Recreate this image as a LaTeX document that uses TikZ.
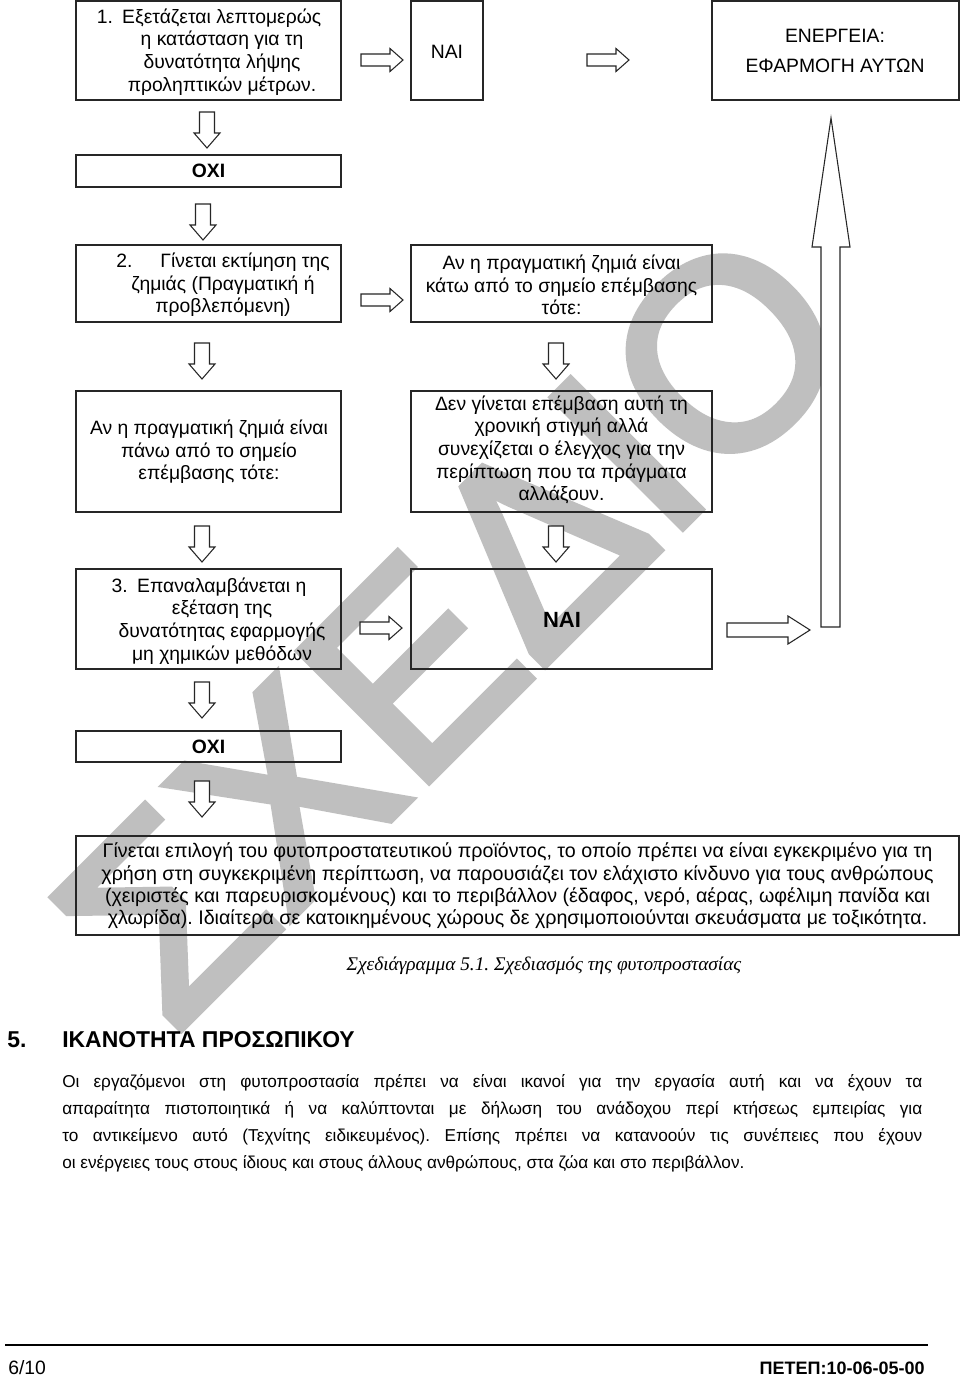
\documentclass[tikz,border=0pt]{standalone}
\usepackage{fontspec}
\setmainfont{Liberation Sans}
\newfontfamily\capfont{Liberation Serif}
\newfontfamily\wmfont[FakeBold=3]{Liberation Sans}
\usetikzlibrary{fit,calc}
\frenchspacing
\tikzset{
  box/.style={draw=black!85, line width=0.8pt, inner sep=0pt},
  txt/.style={font=\fontsize{14.5}{17}\selectfont, align=center, inner sep=0pt},
  btxt/.style={font=\fontsize{14.5}{17}\selectfont\bfseries, align=center, inner sep=0pt},
  blk/.style={draw=black!85, line width=0.8pt, fill=white, line join=miter},
  pics/darr/.style={code={\draw[blk] (-7.5,-18) -- (7.5,-18) -- (7.5,3) -- (13,3) -- (0,18) -- (-13,3) -- (-7.5,3) -- cycle;}},
  pics/rarr/.style={code={\draw[blk] (-21,-6) -- (8,-6) -- (8,-11.5) -- (21,0) -- (8,11.5) -- (8,6) -- (-21,6) -- cycle;}},
  pics/rarrbig/.style={code={\draw[blk] (-41.5,-7) -- (19.5,-7) -- (19.5,-14) -- (41.5,0) -- (19.5,14) -- (19.5,7) -- (-41.5,7) -- cycle;}},
  para/.style={anchor=base west, inner sep=0pt, font=\fontsize{12.9}{15}\selectfont},
}
\begin{document}
\begin{tikzpicture}[x=0.75pt,y=-0.75pt]
\useasboundingbox (0,0) rectangle (960,1378);
\fill[white] (0,0) rectangle (960,1378);
% watermark
\node[rotate=45, text=black!25, inner sep=0pt, font=\wmfont\fontsize{200}{200}\selectfont] (wm) at (453,627) {ΣΧΕΔΙΟ};
% boxes
\node[box, fit={(76,1)(341,100)}] (b1) {};
\node[box, fit={(411,1)(483,100)}] (nai1) {};
\node[box, fit={(712,1)(959,100)}] (en) {};
\node[box, fit={(76,155)(341,187)}] (oxi1) {};
\node[box, fit={(76,245)(341,322)}] (b2) {};
\node[box, fit={(411,245)(712,322)}] (kato) {};
\node[box, fit={(76,391)(341,512)}] (pano) {};
\node[box, fit={(411,391)(712,512)}] (den) {};
\node[box, fit={(76,569)(341,669)}] (b3) {};
\node[box, fit={(411,569)(712,669)}] (nai2) {};
\node[box, fit={(76,731)(341,762)}] (oxi2) {};
\node[box, fit={(76,836)(959,935)}] (big) {};
% texts
\node[txt] (t1) at (222,52) {\hspace*{-19.5pt}1.\hspace{7pt}Εξετάζεται λεπτομερώς\\η κατάσταση για τη\\δυνατότητα λήψης\\προληπτικών μέτρων.};
\node[txt] (tnai1) at (447,52) {ΝΑΙ};
\node[txt] (ten) at (835,51) {ΕΝΕΡΓΕΙΑ:\\[6pt]ΕΦΑΡΜΟΓΗ ΑΥΤΩΝ};
\node[btxt] (toxi1) at (208.5,171) {ΟΧΙ};
\node[txt] (t2) at (223,285) {2.\hspace{21pt}Γίνεται εκτίμηση της\\ζημιάς (Πραγματική ή\\προβλεπόμενη)};
\node[txt] (tkato) at (561.5,285) {Αν η πραγματική ζημιά είναι\\κάτω από το σημείο επέμβασης\\τότε:};
\node[txt] (tpano) at (209,452) {Αν η πραγματική ζημιά είναι\\πάνω από το σημείο\\επέμβασης τότε:};
\node[txt] (tden) at (561.5,450) {Δεν γίνεται επέμβαση αυτή τη\\χρονική στιγμή αλλά\\συνεχίζεται ο έλεγχος για την\\περίπτωση που τα πράγματα\\αλλάξουν.};
\node[txt] (t3) at (222,621) {\hspace*{-19.5pt}3.\hspace{7pt}Επαναλαμβάνεται η\\εξέταση της\\δυνατότητας εφαρμογής\\μη χημικών μεθόδων};
\node[btxt, font=\fontsize{16.5}{18}\selectfont\bfseries] (tnai2) at (562,620) {ΝΑΙ};
\node[btxt] (toxi2) at (208.5,747) {ΟΧΙ};
\node[txt, font=\fontsize{14.75}{16.7}\selectfont] (tbig) at (517.5,886) {Γίνεται επιλογή του φυτοπροστατευτικού προϊόντος, το οποίο πρέπει να είναι εγκεκριμένο για τη\\χρήση στη συγκεκριμένη περίπτωση, να παρουσιάζει τον ελάχιστο κίνδυνο για τους ανθρώπους\\(χειριστές και παρευρισκομένους) και το περιβάλλον (έδαφος, νερό, αέρας, ωφέλιμη πανίδα και\\χλωρίδα). Ιδιαίτερα σε κατοικημένους χώρους δε χρησιμοποιούνται σκευάσματα με τοξικότητα.};
% block arrows
\pic at (207,130) {darr};
\pic at (203,222) {darr};
\pic at (202,361) {darr};
\pic at (202,544) {darr};
\pic at (556,361) {darr};
\pic at (556,544) {darr};
\pic at (202,700) {darr};
\pic at (202,799) {darr};
\pic at (382,60) {rarr};
\pic at (608,60) {rarr};
\pic at (382,300) {rarr};
\pic at (381,628) {rarr};
\pic at (768.5,630) {rarrbig};
\draw[blk] (821,627) -- (821,247) -- (812,247) -- (831,118) -- (850,247) -- (840,247) -- (840,627) -- cycle;
% caption
\node[inner sep=0pt, font=\capfont\itshape\fontsize{14.5}{17}\selectfont] (cap) at (544,966) {Σχεδιάγραμμα 5.1. Σχεδιασμός της φυτοπροστασίας};
% section
\node[anchor=base west, inner sep=0pt, font=\bfseries\fontsize{17.2}{20}\selectfont] (sn) at (7,1047) {5.};
\node[anchor=base west, inner sep=0pt, font=\bfseries\fontsize{17.2}{20}\selectfont] (st) at (62,1047) {ΙΚΑΝΟΤΗΤΑ ΠΡΟΣΩΠΙΚΟΥ};
\node[para] (p1) at (62,1087) {\makebox[645pt][s]{Οι εργαζόμενοι στη φυτοπροστασία πρέπει να είναι ικανοί για την εργασία αυτή και να έχουν τα}};
\node[para] (p2) at (62,1114) {\makebox[645pt][s]{απαραίτητα πιστοποιητικά ή να καλύπτονται με δήλωση του ανάδοχου περί κτήσεως εμπειρίας για}};
\node[para] (p3) at (62,1141) {\makebox[645pt][s]{το αντικείμενο αυτό (Τεχνίτης ειδικευμένος). Επίσης πρέπει να κατανοούν τις συνέπειες που έχουν}};
\node[para] (p4) at (62,1168) {οι ενέργειες τους στους ίδιους και στους άλλους ανθρώπους, στα ζώα και στο περιβάλλον.};
% footer
\coordinate (fl) at (5,1345);
\coordinate (fr) at (928,1345);
\draw[line width=1.5pt] (fl) -- (fr);
\node[anchor=base west, inner sep=0pt, font=\fontsize{14.5}{18}\selectfont] (pg) at (8,1374) {6/10};
\node[anchor=base east, inner sep=0pt, font=\bfseries\fontsize{13.5}{18}\selectfont] (code) at (925,1374) {ΠΕΤΕΠ:10-06-05-00};
\end{tikzpicture}
\end{document}
